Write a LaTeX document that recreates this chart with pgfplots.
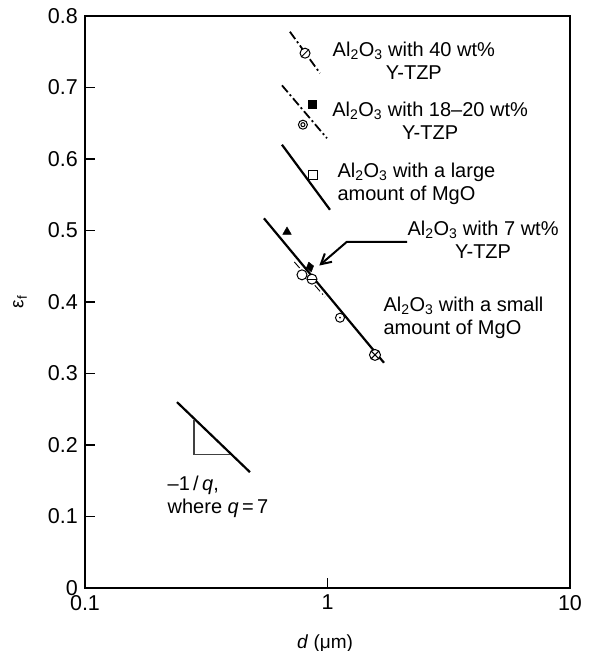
\documentclass[border=0pt]{standalone}
\usepackage{fontspec}
\setmainfont{Liberation Sans}
\usepackage{pgfplots}
\pgfplotsset{compat=1.18}
\usetikzlibrary{arrows.meta}

% circle with a slash
\pgfdeclareplotmark{oslash}{%
  \pgfpathcircle{\pgfpointorigin}{\pgfplotmarksize}\pgfusepathqfillstroke
  \pgfpathmoveto{\pgfpoint{-0.75\pgfplotmarksize}{-0.75\pgfplotmarksize}}%
  \pgfpathlineto{\pgfpoint{0.75\pgfplotmarksize}{0.75\pgfplotmarksize}}%
  \pgfusepathqstroke}
% circle with a horizontal bar
\pgfdeclareplotmark{obar}{%
  \pgfpathcircle{\pgfpointorigin}{\pgfplotmarksize}\pgfusepathqfillstroke
  \pgfpathmoveto{\pgfpoint{-\pgfplotmarksize}{0pt}}%
  \pgfpathlineto{\pgfpoint{\pgfplotmarksize}{0pt}}%
  \pgfusepathqstroke}
% double circle
\pgfdeclareplotmark{ocirc}{%
  \pgfpathcircle{\pgfpointorigin}{\pgfplotmarksize}\pgfusepathqfillstroke
  \pgfpathcircle{\pgfpointorigin}{0.45\pgfplotmarksize}\pgfusepathqstroke}
% circle with a dot
\pgfdeclareplotmark{odotm}{%
  \pgfpathcircle{\pgfpointorigin}{\pgfplotmarksize}\pgfusepathqfillstroke
  \pgfpathcircle{\pgfpointorigin}{0.22\pgfplotmarksize}\pgfsetfillcolor{black}\pgfusepathqfill}

\newcommand{\ann}{\fontsize{20}{23}\selectfont}
\newcommand{\alo}{Al\textsubscript{2}O\textsubscript{3}}

\begin{document}
\begin{tikzpicture}
\useasboundingbox (-85pt,-63pt) rectangle (506pt,588pt);
\begin{axis}[
  at={(0pt,0pt)}, anchor=south west,
  scale only axis, width=485pt, height=572pt,
  xmode=log, xmin=0.1, xmax=10, ymin=0, ymax=0.8,
  xtick={0.1,1,10}, xticklabels={0.1,1,10},
  xminorticks=false,
  ytick={0,0.1,0.2,0.3,0.4,0.5,0.6,0.7,0.8},
  yticklabels={0,0.1,0.2,0.3,0.4,0.5,0.6,0.7,0.8},
  tick align=inside, xtick pos=bottom, ytick pos=left,
  major tick length=10pt,
  /pgf/number format/assume math mode=true,
  axis line style={line width=1.6pt},
  tick style={line width=1.2pt, black},
  tick label style={font=\fontsize{21.5}{25}\selectfont},
  xticklabel style={yshift=-6pt, inner sep=1pt},
  yticklabel style={xshift=-1pt, inner sep=1pt, xshift=-5pt},
  xlabel={\textit{d} (μm)},
  xlabel style={font=\fontsize{19}{23}\selectfont, at={(axis description cs:0.495,-0.097)}, anchor=center},
  ylabel={ε\textsubscript{f}},
  ylabel style={font=\fontsize{19}{23}\selectfont, at={(axis description cs:-0.134,0.5)}, anchor=center},
  clip=false,
]
% lines
\addplot[line width=1.8pt, dash pattern=on 9pt off 3pt on 2pt off 3pt] coordinates {(0.70,0.778) (0.931,0.720)};
\addplot[line width=1.8pt, dash pattern=on 9pt off 3pt on 2pt off 3pt] coordinates {(0.649,0.703) (0.995,0.629)};
\addplot[line width=2.2pt] coordinates {(0.649,0.620) (1.024,0.529)};
\addplot[line width=2.2pt] coordinates {(0.547,0.517) (1.71,0.315)};
\addplot[line width=0.9pt, dash pattern=on 8pt off 3pt on 1.5pt off 3pt] coordinates {(0.73,0.456) (0.977,0.407)};
\addplot[line width=2.2pt] coordinates {(0.2395,0.260) (0.479,0.162)};
\addplot[line width=1.4pt, black!75] coordinates {(0.2815,0.235) (0.2815,0.187) (0.396,0.187)};
% arrow
\addplot[line width=2pt, -{Straight Barb[length=10pt,width=11pt,line width=2pt]}] coordinates {(2.13,0.484) (1.20,0.484) (0.925,0.451)};
% marks
\addplot[only marks, mark=oslash, mark size=5pt, mark options={fill=white, line width=1pt}] coordinates {(0.808,0.748)};
\addplot[only marks, mark=square*, mark size=4pt, mark options={fill=black}] coordinates {(0.863,0.676)};
\addplot[only marks, mark=ocirc, mark size=4.5pt, mark options={fill=white, line width=1pt}] coordinates {(0.792,0.648)};
\addplot[only marks, mark=square*, mark size=4.5pt, mark options={fill=white, line width=1pt}] coordinates {(0.871,0.578)};
\addplot[only marks, mark=triangle*, mark size=5pt, mark options={fill=black}] coordinates {(0.681,0.498)};
\addplot[only marks, mark=*, mark size=5pt, mark options={fill=white, line width=1pt}] coordinates {(0.785,0.438)};
\addplot[only marks, mark=obar, mark size=5pt, mark options={fill=white, line width=1pt}] coordinates {(0.863,0.432)};
\addplot[only marks, mark=diamond*, mark size=5pt, mark options={fill=black, rotate=15}] coordinates {(0.847,0.449)};
\addplot[only marks, mark=odotm, mark size=4.5pt, mark options={fill=white, line width=1pt}] coordinates {(1.126,0.378)};
\addplot[only marks, mark=otimes*, mark size=5.5pt, mark options={fill=white, line width=1pt}] coordinates {(1.57,0.326)};
% annotations
\node[font=\ann, align=center] at (axis cs:2.27,0.737) {\alo{} with 40 wt\%\\Y-TZP};
\node[font=\ann, align=center] at (axis cs:2.65,0.653) {\alo{} with 18–20 wt\%\\Y-TZP};
\node[font=\ann, align=left, anchor=west] at (axis cs:1.064,0.565) {\alo{} with a large\\amount of MgO};
\node[font=\ann, align=center] at (axis cs:4.38,0.487) {\alo{} with 7 wt\%\\Y-TZP};
\node[font=\ann, align=left, anchor=west] at (axis cs:1.646,0.378) {\alo{} with a small\\amount of MgO};
\node[font=\ann, align=left, anchor=west] at (axis cs:0.212,0.127) {–1\,/\,\textit{q},\\where \textit{q}\,=\,7};
\end{axis}
\end{tikzpicture}
\end{document}
